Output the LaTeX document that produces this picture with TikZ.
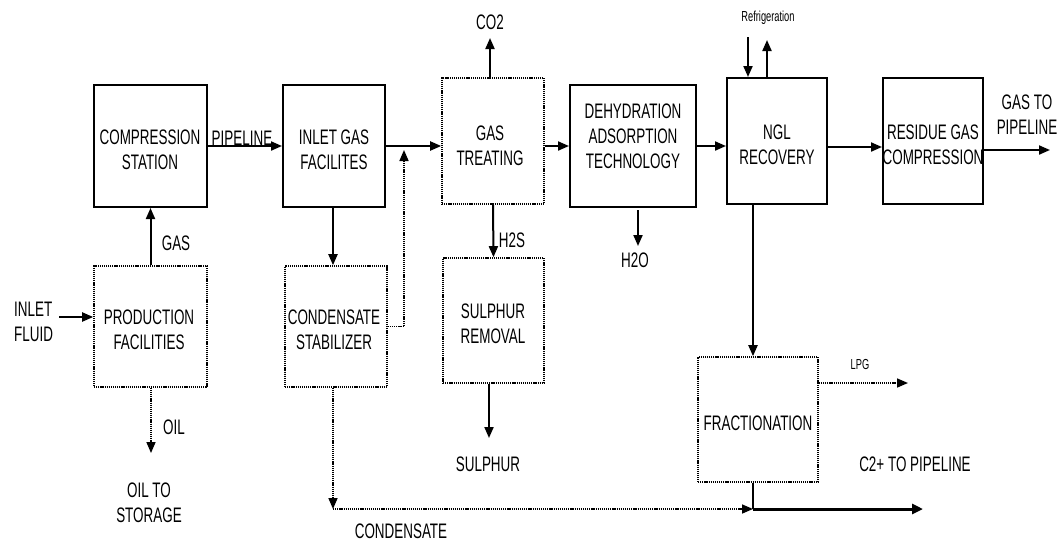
\documentclass[tikz,border=0pt]{standalone}
\usepackage{fontspec}
\setmainfont{Liberation Sans}[FakeStretch=0.64]
\usetikzlibrary{arrows.meta}
\tikzset{
  solidbox/.style={draw, line width=2pt, rectangle, inner sep=0pt},
  dotbox/.style={draw, line width=1.6pt, dash pattern=on 1.2pt off 0.9pt, rectangle, inner sep=0pt},
  txt/.style={font=\fontsize{21}{25}\selectfont, align=center, inner sep=0pt},
  smalltxt/.style={font=\fontsize{14.5}{16}\selectfont, inner sep=0pt},
  arr/.style={line width=2pt, -{Triangle[length=11pt,width=9pt]}},
  thickarr/.style={line width=3pt, -{Triangle[length=11pt,width=10pt]}},
  plainline/.style={line width=2pt},
  dotarr/.style={line width=1.6pt, dash pattern=on 1.2pt off 0.9pt, -{Triangle[length=11pt,width=9pt]}},
}
\begin{document}
\begin{tikzpicture}[x=1pt,y=-1pt]
\fill[white] (0,0) rectangle (1061,542);
\useasboundingbox (0,0) rectangle (1061,542);

% boxes
\node[solidbox, minimum width=113pt, minimum height=122pt] (comp) at (150.5,146) {};
\node[solidbox, minimum width=102pt, minimum height=122pt] (inlet) at (334,146) {};
\node[dotbox, minimum width=102pt, minimum height=126pt] (treat) at (493,141) {};
\node[solidbox, minimum width=126pt, minimum height=122pt] (dehyd) at (633,146) {};
\node[solidbox, minimum width=100pt, minimum height=126pt] (ngl) at (777,141) {};
\node[solidbox, minimum width=100pt, minimum height=126pt] (resid) at (933,141) {};
\node[dotbox, minimum width=113pt, minimum height=121pt] (prod) at (150.5,326.5) {};
\node[dotbox, minimum width=102pt, minimum height=121pt] (stab) at (336,326.5) {};
\node[dotbox, minimum width=101pt, minimum height=125pt] (sulph) at (493.5,320.5) {};
\node[dotbox, minimum width=120pt, minimum height=125pt] (frac) at (758,419.5) {};

% box texts
\node[txt] (compT) at (150,150) {COMPRESSION\\STATION};
\node[txt] (inletT) at (334,150) {INLET GAS\\FACILITES};
\node[txt] (treatT) at (490,146) {GAS\\TREATING};
\node[txt] (dehydT) at (633,136) {DEHYDRATION\\ADSORPTION\\TECHNOLOGY};
\node[txt] (nglT) at (777,145) {NGL\\RECOVERY};
\node[txt] (residT) at (933,145) {RESIDUE GAS\\COMPRESSION};
\node[txt] (prodT) at (149,330) {PRODUCTION\\FACILITIES};
\node[txt] (stabT) at (334,330) {CONDENSATE\\STABILIZER};
\node[txt] (sulphT) at (493,324) {SULPHUR\\REMOVAL};
\node[txt] (fracT) at (758,423) {FRACTIONATION};

% labels
\node[txt] (pipeL) at (242,138) {PIPELINE};
\node[txt] (gasL) at (176,243) {GAS};
\node[txt, align=left, anchor=west] (fluidL) at (14,322) {INLET\\FLUID};
\node[txt] (oilL) at (174,427) {OIL};
\node[txt] (storL) at (149,503) {OIL TO\\STORAGE};
\node[txt] (co2L) at (490,22) {CO2};
\node[txt] (h2sL) at (512,240) {H2S};
\node[txt] (h2oL) at (635,260) {H2O};
\node[smalltxt] (refL) at (768,18) {Refrigeration};
\node[txt] (gasoutL) at (1027,115) {GAS TO\\PIPELINE};
\node[txt] (sulL) at (488,464) {SULPHUR};
\node[txt] (condL) at (401,531) {CONDENSATE};
\node[smalltxt] (lpgL) at (860,365) {LPG};
\node[txt] (c2L) at (915,464) {C2+ TO PIPELINE};

% coordinates
\coordinate (fluidIn) at (59,317);
\coordinate (oilEnd) at (151,453);
\coordinate (co2End) at (490,38);
\coordinate (h2oStart) at (638,210);
\coordinate (h2oEnd) at (638,246);
\coordinate (refIn) at (748,37);
\coordinate (refOut) at (767,40);
\coordinate (gasOut) at (1050,150);
\coordinate (lpgEnd) at (908,383);
\coordinate (merge) at (753,509);
\coordinate (c2End) at (923,509);
\coordinate (condCorner) at (333,509);
\coordinate (sulEnd) at (489,438);

% connectors
\draw[arr] (comp.east) -- (inlet.west);
\draw[arr] (prod.north) -- (comp.south);
\draw[arr] (fluidIn) -- (fluidIn -| prod.west);
\draw[dotarr] (prod.south -| oilEnd) -- (oilEnd);
\draw[arr] ([xshift=-1pt]inlet.south) -- ([xshift=-1pt]inlet.south |- stab.north);
\draw[arr] (inlet.east) -- (inlet.east -| treat.west);
\draw[dotarr] (stab.east) -| (404,150);
\draw[arr] (treat.north -| co2End) -- (co2End);
\draw[arr] (treat.south) -- (sulph.north);
\draw[arr] (sulph.south -| sulEnd) -- (sulEnd);
\draw[arr] (treat.east |- dehyd.west) -- (dehyd.west);
\draw[arr] (h2oStart) -- (h2oEnd);
\draw[arr] (dehyd.east) -- (dehyd.east -| ngl.west);
\draw[arr] (refIn) -- (refIn |- ngl.north);
\draw[arr] (ngl.north -| refOut) -- (refOut);
\draw[arr] ([yshift=-6pt]ngl.east) -- ([yshift=-6pt]resid.west);
\draw[arr] (resid.east |- gasOut) -- (gasOut);
\draw[arr] (ngl.south -| merge) -- (frac.north -| merge);
\draw[dotarr] (frac.east |- lpgEnd) -- (lpgEnd);
\draw[plainline] (frac.south -| merge) -- (merge);
\draw[thickarr] (merge) -- (c2End);
\draw[dotarr] (stab.south -| condCorner) -- (condCorner);
\draw[dotarr] (condCorner) -- (merge);
\end{tikzpicture}
\end{document}
